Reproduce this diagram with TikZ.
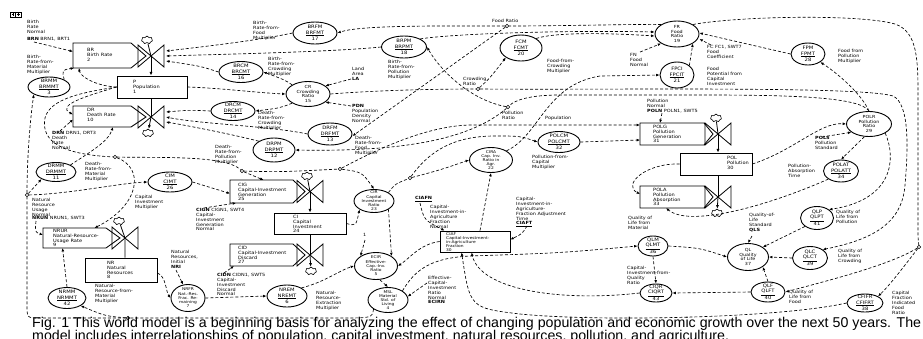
\documentclass[tikz,border=0pt]{standalone}
\usepackage{fontspec}
\newfontfamily\lf[FakeStretch=1.15]{DejaVu Sans}
\newfontfamily\capf{Liberation Sans}
\usetikzlibrary{arrows.meta,shapes.geometric,shapes.symbols,calc}
\tikzset{
 lbl/.style={font=\lf\fontsize{4.3}{4.9}\selectfont, align=left, inner sep=0pt, anchor=north west},
 aux/.style 2 args={draw, ellipse, line width=0.9pt, minimum width=#1pt, minimum height=#2pt, inner sep=0pt},
 auxtxt/.style={font=\lf\fontsize{4.6}{5.3}\selectfont, align=center, inner sep=0pt},
 auxmid/.style={font=\lf\fontsize{4.2}{4.7}\selectfont, align=center, inner sep=0pt},
 auxsm/.style={font=\lf\fontsize{3.8}{4.2}\selectfont, align=center, inner sep=0pt},
 lvl/.style={draw, line width=0.85pt, inner sep=0pt},
 hid/.style={inner sep=0pt, outer sep=0pt},
 boxtxt/.style={font=\lf\fontsize{4.4}{4.8}\selectfont, align=left, inner sep=0pt, anchor=north west},
 boxsm/.style={font=\lf\fontsize{3.8}{4.1}\selectfont, align=left, inner sep=0pt, anchor=north west},
 dl/.style={dash pattern=on 3pt off 2pt, line width=0.65pt},
 ar/.style={dl, -{Latex[length=3.4pt,width=2.8pt]}},
 flow/.style={line width=0.8pt},
 flowar/.style={line width=0.8pt, -{Latex[length=3.6pt,width=3pt]}},
 jn/.style={circle, draw, line width=0.5pt, minimum size=3.6pt, inner sep=0pt, fill=white},
 cld/.style={cloud, cloud puffs=7, draw, line width=0.6pt, minimum width=11pt, minimum height=8pt, inner sep=0pt, aspect=1.3},
 valve/.pic={\draw[line width=0.8pt] (-13,-11) -- (13,11) -- (13,-11) -- (-13,11) -- cycle;}
}
\newcommand\mkaux[7][auxtxt]{\node[aux={#5}{#6}] (#2) at (#3,#4) {}; \node[#1] (#2t) at (#2) {#7};}
\begin{document}
\begin{tikzpicture}[x=1pt,y=-1pt]
\fill[white] (0,0) rectangle (923,338);
\useasboundingbox (0,0) rectangle (923,338);

% icon
\node[draw, line width=0.5pt, minimum width=11pt, minimum height=5pt, inner sep=0pt] (icon) at (15.5,14.5) {};
\draw[line width=0.5pt] (icon.north) -- (icon.south);
\draw[line width=0.4pt] (11.5,14.5) -- (14,14.5) (12.75,13.3) -- (12.75,15.7) (17,14.5) -- (19.5,14.5) (18.25,13.3) -- (18.25,15.7);

% ---------- rate boxes, levels, valves, clouds
\node[hid, minimum width=58pt, minimum height=25pt] (brbox) at (102,55.5) {};
\coordinate (brtip) at (146,56); \coordinate (brv) at (151,56);
\draw[lvl] (brbox.north west) -- (brbox.north east) -- (brtip) -- (brbox.south east) -- (brbox.south west) -- cycle;
\pic at (brv) {valve};
\node[cld] (brc) at (147,40) {};
\node[boxtxt] (brtx) at (87,48) {BR\\Birth Rate\\2};

\node[lvl, minimum width=70pt, minimum height=22pt] (p) at (152,87) {};
\node[boxtxt] (ptx) at (133,80) {P\\Population\\1};

\node[hid, minimum width=58pt, minimum height=21pt] (drbox) at (102,116.5) {};
\coordinate (drtip) at (146,117); \coordinate (drv) at (151,117);
\draw[lvl] (drbox.north west) -- (drbox.north east) -- (drtip) -- (drbox.south east) -- (drbox.south west) -- cycle;
\pic at (drv) {valve};
\node[cld] (drc) at (148,133) {};
\node[boxtxt] (drtx) at (87,108) {DR\\Death Rate\\10};

\node[hid, minimum width=63pt, minimum height=20pt] (nrurbox) at (74.5,238) {};
\coordinate (nrurtip) at (120,238); \coordinate (nrurv) at (125,238);
\draw[lvl] (nrurbox.north west) -- (nrurbox.north east) -- (nrurtip) -- (nrurbox.south east) -- (nrurbox.south west) -- cycle;
\pic at (nrurv) {valve};
\node[cld] (nrurc) at (119,221) {};
\node[boxtxt] (nrurtx) at (53,229) {NRUR\\Natural-Resource-\\Usage Rate\\9};

\node[lvl, minimum width=72pt, minimum height=24pt] (nr) at (121,270) {};
\node[boxtxt] (nrtx) at (107,261) {NR\\Natural\\Resources\\8};

\node[hid, minimum width=63pt, minimum height=23pt] (cigbox) at (261.5,191.5) {};
\coordinate (cigtip) at (305,191.5); \coordinate (cigv) at (310,191.5);
\draw[lvl] (cigbox.north west) -- (cigbox.north east) -- (cigtip) -- (cigbox.south east) -- (cigbox.south west) -- cycle;
\pic at (cigv) {valve};
\node[cld] (cigc) at (307,176) {};
\node[boxtxt] (cigtx) at (238,183) {CIG\\Capital-Investment\\Generation\\25};

\node[lvl, minimum width=72pt, minimum height=21pt] (ci) at (310,223.5) {};
\node[boxtxt] (citx) at (293,215) {CI\\Capital\\Investment\\24};

\node[hid, minimum width=63pt, minimum height=22pt] (cidbox) at (261.5,255) {};
\coordinate (cidtip) at (305,255); \coordinate (cidv) at (310,255);
\draw[lvl] (cidbox.north west) -- (cidbox.north east) -- (cidtip) -- (cidbox.south east) -- (cidbox.south west) -- cycle;
\pic at (cidv) {valve};
\node[cld] (cidc) at (311,271) {};
\node[boxtxt] (cidtx) at (238,246) {CID\\Capital-Investment\\Discard\\27};

\node[hid, minimum width=64pt, minimum height=22pt] (polgbox) at (672,134) {};
\coordinate (polgtip) at (713,134); \coordinate (polgv) at (718,134);
\draw[lvl] (polgbox.north west) -- (polgbox.north east) -- (polgtip) -- (polgbox.south east) -- (polgbox.south west) -- cycle;
\pic at (polgv) {valve};
\node[cld] (polgc) at (716,118) {};
\node[boxtxt] (polgtx) at (653,125) {POLG\\Pollution\\Generation\\31};

\node[lvl, minimum width=72pt, minimum height=22pt] (pol) at (716,164) {};
\node[boxtxt] (poltx) at (727,156) {POL\\Pollution\\30};

\node[hid, minimum width=64pt, minimum height=22pt] (polabox) at (672,197) {};
\coordinate (polatip) at (713,197); \coordinate (polav) at (718,197);
\draw[lvl] (polabox.north west) -- (polabox.north east) -- (polatip) -- (polabox.south east) -- (polabox.south west) -- cycle;
\pic at (polav) {valve};
\node[cld] (polac) at (717,213) {};
\node[boxtxt] (polatx) at (653,188) {POLA\\Pollution\\Absorption\\33};

\node[lvl, minimum width=70pt, minimum height=21pt] (ciaf) at (475,241.5) {};
\node[boxsm] (ciaftx) at (446,232) {CIAF\\Capital-Investment-\\in-Agriculture\\Fraction\\30};

% ---------- auxiliaries
\mkaux{brmm}{49}{87}{42}{20}{BRMM\\\underline{BRMMT}\\3}
\mkaux{drmm}{56}{172}{40}{19}{DRMM\\\underline{DRMMT}\\11}
\mkaux{cim}{170}{182}{44}{20}{CIM\\\underline{CIMT}\\26}
\mkaux{nrmm}{67}{298}{38}{21}{NRMM\\\underline{NRMMT}\\42}
\mkaux[auxsm]{nrfr}{188}{298}{34}{27}{NRFR\\Nat.-Res.\\Frac. Re-\\maining\\7}
\mkaux{nrem}{287}{296}{40}{22}{NREM\\\underline{NREMT}\\6}
\mkaux[auxsm]{ecir}{376}{266}{43}{27}{ECIR\\Effective-\\Cap.-Inv.\\Ratio\\5}
\mkaux[auxsm]{msl}{388}{300}{40}{25}{MSL\\Material\\Std. of\\Living\\4}
\mkaux[auxsm]{cir}{374}{201}{40}{23}{CIR\\Capital\\Investment\\Ratio\\23}
\mkaux[auxsm]{cira}{491}{160}{43}{25}{CIRA\\Cap. Inv.\\Ratio in\\Agr.\\22}
\mkaux{polcm}{559}{142}{42}{21}{POLCM\\\underline{POLCMT}\\32}
\mkaux{brfm}{315}{33}{44}{22}{BRFM\\\underline{BRFMT}\\17}
\mkaux{brpm}{404}{47}{45}{22}{BRPM\\\underline{BRPMT}\\18}
\mkaux{brcm}{241}{72}{44}{21}{BRCM\\\underline{BRCMT}\\16}
\mkaux[auxmid]{cr}{308}{94}{44}{25}{CR\\Crowding\\Ratio\\15}
\mkaux{drcm}{233}{111}{44}{19}{DRCM\\\underline{DRCMT}\\14}
\mkaux{drpm}{274}{150}{42}{24}{DRPM\\\underline{DRPMT}\\12}
\mkaux{drfm}{330}{134}{44}{22}{DRFM\\\underline{DRFMT}\\13}
\mkaux{fcm}{521}{48}{42}{26}{FCM\\\underline{FCMT}\\20}
\mkaux[auxmid]{fr}{677}{34}{44}{26}{FR\\Food\\Ratio\\19}
\mkaux{fpci}{677}{75}{34}{26}{FPCI\\\underline{FPCIT}\\21}
\mkaux{fpm}{808}{54}{34}{22}{FPM\\\underline{FPMT}\\28}
\mkaux[auxmid]{polr}{869}{124}{45}{25}{POLR\\Pollution\\Ratio\\29}
\mkaux{polat}{841}{171}{35}{22}{POLAT\\\underline{POLATT}\\34}
\mkaux{qlp}{817}{218}{33}{23}{QLP\\\underline{QLPT}\\41}
\mkaux[auxmid]{ql}{748}{257}{41}{27}{QL\\Quality\\of Life\\37}
\mkaux{qlc}{810}{258}{35}{23}{QLC\\\underline{QLCT}\\39}
\mkaux{qlf}{768}{292}{34}{20}{QLF\\\underline{QLFT}\\40}
\mkaux{cfifr}{865}{303}{36}{18}{CFIFR\\\underline{CFIFRT}\\38}
\mkaux{qlm}{653}{246}{30}{20}{QLM\\\underline{QLMT}\\36}
\mkaux{ciqr}{656}{293}{32}{18}{CIQR\\\underline{CIQRT}\\43}

% ---------- junctions
\node[jn] (jfood) at (507,26) {};
\node[jn] (jcrowd) at (478,89) {};
\node[jn] (jpoll) at (508,107) {};
\node[jn] (jp1) at (115,157) {};
\node[jn] (jp2) at (242,171) {};
\node[jn] (jp3) at (340,169) {};
\node[jn] (jcir) at (410,178) {};
\node[jn] (jmsl1) at (27,195) {};
\node[jn] (jmsl2) at (128,318) {};
\node[jn] (jfr) at (919,247) {};

% ---------- labels
\node[lbl] (l1) at (27,20) {Birth\\Rate\\Normal};
\node[lbl] (l2) at (27,37) {\textbf{BRN} BRN1, BRT1};
\node[lbl] (l3) at (27,55) {Birth-\\Rate-from-\\Material\\Multiplier};
\node[lbl] (l4) at (52,131) {\textbf{DRN} DRN1, DRT3\\Death\\Rate\\Normal};
\node[lbl] (l5) at (85,162) {Death-\\Rate-from-\\Material\\Multiplier};
\node[lbl] (l6) at (135,195) {Capital\\Investment\\Multiplier};
\node[lbl] (l7) at (32,198) {Natural\\Resource\\Usage\\Normal};
\node[lbl] (l8) at (32,216) {\textbf{NRUN} NRUN1, SWT3};
\node[lbl] (l9) at (95,284) {Natural-\\Resource-from-\\Material\\Multiplier};
\node[lbl] (l10) at (171,250) {Natural\\Resources,\\Initial\\\textbf{NRI}};
\node[lbl] (l11) at (196,208) {\textbf{CIGN} CIGN1, SWT4\\Capital-\\Investment\\Generation\\Normal};
\node[lbl] (l12) at (217,273) {\textbf{CIDN} CIDN1, SWT5\\Capital-\\Investment\\Discard\\Normal};
\node[lbl] (l13) at (316,291) {Natural-\\Resource-\\Extraction\\Multiplier};
\node[lbl] (l14) at (363,233) {1};
\node[lbl] (l15) at (428,276) {Effective-\\Capital-\\Investment\\Ratio\\Normal\\\textbf{ECIRN}};
\node[lbl] (l16) at (415,196) {\underline{\textbf{CIAFN}}};
\node[lbl] (l17) at (430,205) {Capital-\\Investment-in-\\Agriculture\\Fraction\\Normal};
\node[lbl] (l18) at (516,197) {Capital-\\Investment-in-\\Agriculture-\\Fraction Adjustment\\Time\\\underline{\textbf{CIAFT}}};
\node[lbl] (l19) at (628,216) {Quality of\\Life from\\Material};
\node[lbl] (l20) at (627,266) {Capital-\\Investment-from-\\Quality\\Ratio};
\node[lbl] (l21) at (253,21) {Birth-\\Rate-from-\\Food\\Multiplier};
\node[lbl] (l22) at (268,57) {Birth-\\Rate-from-\\Crowding\\Multiplier};
\node[lbl] (l23) at (388,60) {Birth-\\Rate-from-\\Pollution\\Multiplier};
\node[lbl] (l24) at (352,67) {Land\\Area\\\textbf{LA}};
\node[lbl] (l25) at (352,104) {\textbf{PDN}\\Population\\Density\\Normal};
\node[lbl] (l26) at (258,111) {Death-\\Rate-from-\\Crowding\\Multiplier};
\node[lbl] (l27) at (215,145) {Death-\\Rate-from-\\Pollution\\Multiplier};
\node[lbl] (l28) at (355,136) {Death-\\Rate-from-\\Food\\Multiplier};
\node[lbl] (l29) at (547,59) {Food-from-\\Crowding\\Multiplier};
\node[lbl] (l30) at (630,53) {FN\\Food\\Normal};
\node[lbl] (l31) at (707,45) {FC FC1, SWT7\\Food\\Coefficient};
\node[lbl] (l32) at (707,67) {Food\\Potential from\\Capital\\Investment};
\node[lbl] (l33) at (838,49) {Food from\\Pollution\\Multiplier};
\node[lbl] (l34) at (492,19) {Food Ratio};
\node[lbl] (l35) at (463,77) {Crowding\\Ratio};
\node[lbl] (l36) at (502,111) {Pollution\\Ratio};
\node[lbl] (l37) at (545,116) {Population};
\node[lbl] (l38) at (532,155) {Pollution-from-\\Capital\\Multiplier};
\node[lbl] (l39) at (647,99) {Pollution\\Normal\\\textbf{POLN} POLN1, SWT5};
\node[lbl] (l40) at (815,136) {\textbf{POLS}\\Pollution\\Standard};
\node[lbl] (l41) at (788,164) {Pollution-\\Absorption\\Time};
\node[lbl] (l42) at (836,210) {Quality of\\Life from\\Pollution};
\node[lbl] (l43) at (749,213) {Quality-of-\\Life\\Standard\\\textbf{QLS}};
\node[lbl] (l44) at (838,249) {Quality of\\Life from\\Crowding};
\node[lbl] (l45) at (789,290) {Quality of\\Life from\\Food};
\node[lbl] (l46) at (892,291) {Capital\\Fraction\\Indicated\\Food\\Ratio};

% ---------- free ends
\coordinate (brnA) at (34,42);
\coordinate (drnA) at (60,131);
\coordinate (nrunA) at (36,221);
\coordinate (nriA) at (176,270);
\coordinate (cignA) at (204,208);
\coordinate (cidnA) at (224,273);
\coordinate (laA) at (351,79);
\coordinate (pdnA) at (351,106);
\coordinate (oneA) at (365,240);
\coordinate (ciafnA) at (420,203);
\coordinate (ecirnA) at (427,283);
\coordinate (ciaftA) at (527,226);
\coordinate (fnA) at (640,52);
\coordinate (fcA) at (711,45);
\coordinate (polnA) at (662,113);
\coordinate (polsA) at (822,137);
\coordinate (qlsA) at (752,236);
\coordinate (brvA) at (166,51); \coordinate (brvB) at (166,56); \coordinate (brvC) at (166,61);
\coordinate (drvA) at (166,112); \coordinate (drvB) at (166,117); \coordinate (drvC) at (166,122);

% ---------- flows
\draw[flow] (brc) -- (brv);
\draw[flowar] (brv) -- (brv |- p.north);
\draw[flow] (drv |- p.south) -- (drv);
\draw[flowar] (drv) -- (drc);
\draw[flow] (nrurv |- nr.north) -- (nrurv) -- (nrurc);
\draw[flow] (cigc) -- (cigv);
\draw[flowar] (cigv) -- (cigv |- ci.north);
\draw[flow] (cidv |- ci.south) -- (cidv);
\draw[flowar] (cidv) -- (cidc);
\draw[flow] (polgc) -- (polgv);
\draw[flowar] (polgv) -- (polgv |- pol.north);
\draw[flow] (polav |- pol.south) -- (polav);
\draw[flowar] (polav) -- (polac);

% ---------- connectors: birth / death rates
\draw[ar] (brnA) -- ([yshift=4pt]brbox.west);
\draw[ar] (p.west) .. controls (95,86) and (80,76) .. ([xshift=6pt]brbox.south west);
\draw[ar] (brmm.north east) .. controls (62,70) .. ([xshift=1pt]brbox.south west);
\draw[ar] (brfm.west) .. controls (260,40) and (210,46) .. (brvA);
\draw[ar] (brpm.west) .. controls (330,52) and (230,54) .. (brvB);
\draw[ar] (brcm.west) .. controls (200,66) .. (brvC);
\draw[ar] (drcm.west) .. controls (190,110) .. (drvA);
\draw[ar] (drfm.west) .. controls (270,126) and (200,124) .. (drvB);
\draw[ar] (drpm.north west) .. controls (235,135) and (190,126) .. (drvC);
\draw[ar] (p.west) .. controls (90,95) and (55,105) .. ([yshift=2pt]drbox.west);
\draw[ar] (drnA) -- ([yshift=-3pt]drbox.west);
\draw[ar] (drmm.north east) .. controls (90,152) and (108,142) .. ([xshift=40pt]drbox.south west);

% crowding
\draw[ar] (p.east) .. controls (220,88) and (260,93) .. (cr.west);
\draw[ar] (cr.north west) .. controls (285,80) .. (brcm.east);
\draw[ar] (cr.south west) .. controls (280,108) .. (drcm.east);
\draw[ar] (laA) -- (cr.25);
\draw[ar] (pdnA) -- (cr.-25);
\draw[ar] (cr.east) .. controls (380,90) and (440,89) .. (jcrowd) .. controls (620,90) and (860,86) .. (893,96) .. controls (910,104) and (908,150) .. (905,185) .. controls (902,225) and (870,240) .. (qlc.north east);
\draw[ar] (jcrowd) .. controls (490,78) .. (fcm.south west);

% food
\draw[ar] (fr.north west) .. controls (640,24) and (560,26) .. (jfood) .. controls (440,26) and (360,25) .. (brfm.east);
\draw[ar] (jfood) -- ([yshift=-2pt]drfm.east);
\draw[ar] (fcm.north east) .. controls (555,32) and (610,33) .. ([yshift=-2pt]fr.west);
\draw[ar] (brpm.north east) .. controls (450,34) and (560,30) .. ([yshift=2pt]fr.west);
\draw[ar] (fnA) -- (fr.south west);
\draw[ar] (fcA) -- ([yshift=-5pt]fr.east);
\draw[ar] (fpci.north east) -- (fr.south east);
\draw[ar] (fpm.west) -- ([yshift=1pt]fr.east);
\draw[ar] (polr.north) .. controls (862,95) and (840,75) .. (fpm.south east);
\draw[dl] (fr.north east) .. controls (740,16) and (860,14) .. (895,24) .. controls (918,32) and (918,60) .. (918,100) -- (918,228) .. controls (918,238) .. (jfr);
\draw[ar] (jfr) .. controls (890,265) and (830,280) .. (qlf.east);
\draw[ar] (jfr) .. controls (905,265) and (890,285) .. (cfifr.north east);

% pollution
\draw[dl] (polr.north) .. controls (860,96) and (780,95) .. (700,95) -- (560,95) .. controls (530,95) and (515,100) .. (jpoll);
\draw[ar] (jpoll) .. controls (470,140) and (400,152) .. (drpm.east);
\draw[ar] (jpoll) .. controls (470,100) and (440,70) .. (brpm.east);

% population
\draw[dl] (p.west) .. controls (85,92) and (50,98) .. (45,118) .. controls (42,135) and (50,154) .. (jp1);
\draw[dl] (jp1) .. controls (160,158) and (225,155) .. (jp2);
\draw[ar] (jp2) -- ([xshift=2pt]cigbox.north);
\draw[dl] (jp2) .. controls (280,172) .. (jp3);
\draw[ar] (jp3) .. controls (362,172) .. (cir.north);
\draw[ar] (jp3) .. controls (385,145) and (430,126) .. (470,125) -- ([yshift=-2pt]polgbox.north west);
\draw[ar] (jp1) .. controls (145,168) and (140,205) .. ([xshift=20pt]nrurbox.north);

% material standard of living
\draw[dl] (msl.south west) .. controls (372,318) .. (340,318) -- (jmsl2) -- (40,318) .. controls (27,318) .. (27,305) -- (jmsl1);
\draw[ar] (jmsl1) -- (drmm.south west);
\draw[ar] (jmsl1) .. controls (70,194) and (120,183) .. (cim.west);
\draw[ar] (jmsl1) .. controls (27,160) and (30,120) .. (brmm.south west);
\draw[ar] (jmsl2) .. controls (105,316) .. (nrmm.south east);
\draw[ar] (msl.north east) .. controls (415,270) and (430,258) .. (470,256) .. controls (560,253) .. (qlm.west);

% capital, resources
\draw[ar] (cim.east) -- ([yshift=-2pt]cigbox.west);
\draw[ar] (cignA) -- ([xshift=6pt]cigbox.south west);
\draw[ar] (cidnA) -- ([xshift=4pt]cidbox.south west);
\draw[ar] (nrunA) .. controls (35,232) .. ([yshift=3pt]nrurbox.west);
\draw[ar] (nrmm.north) -- ([xshift=-12pt]nrurbox.south);
\draw[ar] ([yshift=-3pt]nr.east) .. controls (166,276) and (166,292) .. (nrfr.west);
\draw[ar] (nriA) -- (nrfr.110);
\draw[ar] (nrfr.east) -- (nrem.west);
\draw[ar] (nrem.north east) .. controls (325,282) and (340,270) .. (ecir.west);
\draw[ar] (ci.east) .. controls (356,226) .. (cir.south west);
\draw[ar] (cir.south east) -- (ecir.north east);
\draw[ar] (oneA) -- (ecir.north west);
\draw[ar] (ciaf.west) .. controls (420,244) and (410,258) .. (ecir.east);
\draw[ar] (ciafnA) .. controls (424,220) .. ([xshift=5pt]ciaf.north west);
\draw[ar] ([xshift=5pt]ciaf.north) -- (cira.south);
\draw[dl] (cir.north east) .. controls (395,184) .. (jcir);
\draw[ar] (jcir) .. controls (440,170) .. (cira.west);
\draw[ar] (jcir) .. controls (430,150) and (455,136) .. (495,136) .. controls (520,136) .. (polcm.west);
\draw[ar] (polcm.east) -- ([yshift=-6pt]polgbox.west);
\draw[ar] (cira.north east) .. controls (540,135) and (545,85) .. (600,76) -- (fpci.west);
\draw[ar] ([xshift=4pt]ecir.south) -- (msl.north);
\draw[ar] (ecirnA) -- (msl.10);
\draw[ar] (ciaftA) .. controls (522,234) .. ([yshift=2pt]ciaf.east);

% pollution sector
\draw[ar] (polnA) -- ([xshift=20pt]polgbox.north west);
\draw[ar] (pol.east) .. controls (795,150) and (820,122) .. (polr.west);
\draw[ar] (polsA) -- (polr.205);
\draw[ar] (polr.250) -- (polat.north);
\draw[ar] (polr.south east) .. controls (897,160) and (892,200) .. (qlp.north east);
\draw[ar] (polat.south west) .. controls (770,205) and (690,228) .. ([xshift=26pt]polabox.south west);
\draw[ar] (pol.west) .. controls (645,163) and (622,185) .. ([yshift=3pt]polabox.west);

% quality of life
\draw[ar] (qlp.south west) -- (ql.north east);
\draw[ar] (qlsA) -- (ql.north);
\draw[ar] (qlc.west) -- (ql.east);
\draw[ar] (qlf.north) -- (ql.south east);
\draw[ar] (qlm.east) .. controls (700,248) .. (ql.west);
\draw[ar] (qlm.south) -- (ciqr.north);
\draw[ar] (qlf.west) -- (ciqr.east);
\draw[ar] (ciqr.west) .. controls (560,302) and (480,290) .. ([xshift=32pt]ciaf.south west);
\draw[ar] (cfifr.west) .. controls (780,318) and (600,322) .. (520,314) .. controls (470,308) .. ([xshift=22pt]ciaf.south west);

% caption
\node[anchor=base west, inner sep=0pt, font=\capf\fontsize{14.2}{15}\selectfont] (cap1) at (32,327) {\makebox[889pt][s]{Fig. 1 This world model is a beginning basis for analyzing the effect of changing population and economic growth over the next 50 years. The}};
\node[anchor=base west, inner sep=0pt, font=\capf\fontsize{14.2}{15}\selectfont] (cap2) at (32,340) {model includes interrelationships of population, capital investment, natural resources, pollution, and agriculture.};
\end{tikzpicture}
\end{document}
